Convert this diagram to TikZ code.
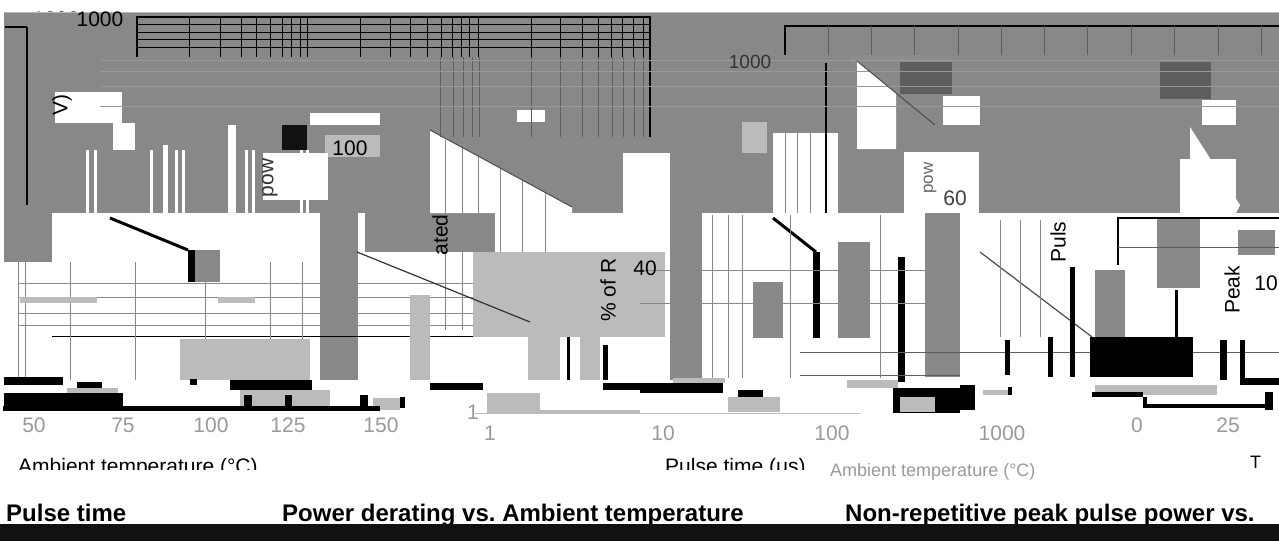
\documentclass[tikz,border=0pt]{standalone}
\usepackage{fontspec}
\setmainfont{Liberation Sans}
\frenchspacing
\definecolor{midgray}{HTML}{888888}
\definecolor{darkgray2}{HTML}{5E5E5E}
\definecolor{lightgray2}{HTML}{BBBBBB}
\definecolor{barblack}{HTML}{111111}
\definecolor{ticktext}{HTML}{9A9A9A}
\tikzset{
  grblock/.style={fill=midgray},
  dkblock/.style={fill=darkgray2},
  ltblock/.style={fill=lightgray2},
  whblock/.style={fill=white},
  bkblock/.style={fill=black},
  gridline/.style={draw=black, line width=1.4pt},
  thinline/.style={draw=darkgray2, line width=0.8pt},
  paleline/.style={draw=lightgray2, line width=1pt},
  ticklabel/.style={font=\fontsize{21}{21}\selectfont, text=ticktext, inner sep=0pt},
  valuelabel/.style={font=\fontsize{21}{21}\selectfont, inner sep=0pt},
  axistitle/.style={font=\fontsize{21}{21}\selectfont, inner sep=0pt, anchor=base west},
  charttitle/.style={font=\bfseries\fontsize{24}{24}\selectfont, inner sep=0pt, anchor=base west}
}
\begin{document}
\begin{tikzpicture}[x=1pt,y=-1pt]
\useasboundingbox (0,0) rectangle (1279,541);
\fill[white] (0,0) rectangle (1279,541);

\begin{scope}
\clip (0,0) rectangle (1279,12);
\node[valuelabel] (topvalueA) at (56,19) {1000};
\end{scope}
\fill[grblock] (4,12) rectangle (1279,213);
\draw[paleline] (4,12.5) -- (1279,12.5);
\fill[grblock] (4,213) rectangle (52,262);
\fill[grblock] (320,213) rectangle (358,380);
\fill[grblock] (365,210) rectangle (495,252);
\fill[grblock] (670,213) rectangle (702,380);
\fill[grblock] (925,213) rectangle (960,377);

\fill[whblock] (55,92) rectangle (122,123);
\fill[whblock] (113,123) rectangle (135,150);
\fill[whblock] (163,145) rectangle (168,213);
\fill[whblock] (228,125) rectangle (236,213);
\foreach \xx in {86,94,150,175,182,245,252,300,306}
  \fill[whblock] (\xx,150) rectangle (\xx+3,213);
\fill[whblock] (310,113) rectangle (380,125);
\fill[lightgray2] (325,135) rectangle (380,157);
\fill[whblock] (263,153) rectangle (328,200);
\fill[barblack] (282,125) rectangle (307,150);
\fill[whblock] (430,130) -- (572,207) -- (572,213) -- (430,213) -- cycle;
\foreach \xx in {445,462,478,500,522,545}
  \draw[thinline, draw=midgray] (\xx,140) -- (\xx,330);
\fill[whblock] (517,110) rectangle (545,122);
\fill[whblock] (623,153) rectangle (670,213);
\fill[whblock] (773,133) rectangle (838,213);
\foreach \xx in {785,797,810}
  \draw[thinline, draw=midgray] (\xx,133) -- (\xx,213);
\fill[lightgray2] (742,122) rectangle (767,153);
\fill[whblock] (857,61) -- (896,93) -- (896,149) -- (857,149) -- cycle;
\fill[whblock] (943,96) rectangle (980,125);
\fill[whblock] (1202,100) rectangle (1236,125);
\fill[whblock] (904,152) rectangle (979,213);
\fill[whblock] (1180,159) rectangle (1236,213);
\fill[whblock] (1190,127) -- (1240,205) -- (1236,213) -- (1190,213) -- cycle;
\fill[black!45] (850,55) rectangle (952,62);
\fill[dkblock] (900,62) rectangle (952,94);
\fill[dkblock] (1160,62) rectangle (1211,99);

\draw[gridline] (137,57) -- (137,17) -- (650,17) -- (650,137);
\foreach \yy in {24,32,39,47} \draw[gridline, line width=1pt] (137,\yy) -- (650,\yy);
\foreach \xx in {189,220,241,256,270,282,291,300,307,360,390,410,427,441,452,461,469,478,531,560,582,598,611,622,633,643}
  \draw[gridline, line width=0.9pt] (\xx,17) -- (\xx,57);
\foreach \xx in {440,453,463,472,479,531,560,582,598,612,623,634,643}
  \draw[thinline] (\xx,57) -- (\xx,137);
\draw[gridline] (27,27) -- (5,27);
\draw[gridline] (27,27) -- (27,205);
\draw[gridline] (785,55) -- (785,26) -- (1279,26);
\foreach \xx in {828,871,914,958,1001,1044,1087,1131,1174,1218,1261}
  \draw[thinline] (\xx,26) -- (\xx,55);
\draw[gridline] (826,63) -- (826,213);
\foreach \yy in {60,71,86,106}
  \draw[paleline, draw=black!40] (100,\yy) -- (1279,\yy);

\draw[black!70, line width=1pt] (857,61) -- (935,125);
\draw[black!70, line width=1pt] (430,130) -- (572,207);
\draw[black, line width=3pt] (110,218) -- (188,250);
\fill[bkblock] (188,250) rectangle (195,282);
\fill[grblock] (195,250) rectangle (220,282);
\foreach \yy in {283,297,313,325}
  \draw[paleline, draw=midgray] (18,\yy) -- (640,\yy);
\draw[thinline, draw=black] (52,336) -- (640,336);
\foreach \xx in {18,25,70,135,205,270,302}
  \draw[thinline, draw=midgray] (\xx,262) -- (\xx,380);
\fill[ltblock] (180,339) rectangle (310,380);
\fill[ltblock] (20,297) rectangle (97,303);
\fill[ltblock] (218,297) rectangle (255,303);
\fill[ltblock] (410,295) rectangle (430,380);
\fill[ltblock] (473,252) rectangle (665,337);
\fill[ltblock] (528,337) rectangle (560,380);
\fill[ltblock] (580,337) rectangle (600,380);
\draw[black!80, line width=1.2pt] (357,252) -- (530,322);
\fill[bkblock] (567,337) rectangle (570,380);
\fill[bkblock] (603,345) rectangle (608,380);

\fill[grblock] (753,282) rectangle (783,338);
\draw[black, line width=3pt] (773,218) -- (816,252);
\fill[bkblock] (813,252) rectangle (820,338);
\fill[grblock] (838,242) rectangle (870,338);
\fill[bkblock] (898,257) rectangle (905,382);
\foreach \yy in {270,303}
  \draw[thinline, draw=midgray] (640,\yy) -- (960,\yy);
\draw[thinline] (800,352) -- (1279,352);
\draw[thinline] (800,375) -- (960,375);
\foreach \xx in {712,728,742,790,880}
  \draw[thinline, draw=midgray] (\xx,215) -- (\xx,378);

\draw[black!70, line width=1.2pt] (980,252) -- (1092,337);
\foreach \xx in {1000,1020,1040}
  \draw[thinline, draw=midgray] (\xx,220) -- (\xx,337);
\fill[grblock] (1095,270) rectangle (1125,337);
\fill[grblock] (1157,218) rectangle (1200,288);
\fill[grblock] (1238,230) rectangle (1275,255);
\fill[bkblock] (1090,337) rectangle (1193,377);
\fill[bkblock] (1005,340) rectangle (1010,375);
\fill[bkblock] (1048,337) rectangle (1053,377);
\fill[bkblock] (1070,267) rectangle (1075,377);
\fill[bkblock] (1220,340) rectangle (1227,380);
\fill[bkblock] (1240,340) rectangle (1245,380);
\fill[bkblock] (1240,378) rectangle (1279,385);
\draw[gridline] (1118,265) -- (1118,218) -- (1279,218);
\draw[thinline] (1118,247) -- (1279,247);
\fill[bkblock] (1175,290) rectangle (1178,340);

\fill[bkblock] (4,377) rectangle (63,385);
\fill[bkblock] (77,382) rectangle (102,390);
\fill[ltblock] (67,388) rectangle (118,397);
\fill[bkblock] (4,393) rectangle (123,410);
\fill[bkblock] (190,379) rectangle (197,385);
\fill[bkblock] (230,380) rectangle (312,390);
\fill[ltblock] (240,390) rectangle (330,410);
\fill[bkblock] (244,395) rectangle (252,410);
\fill[bkblock] (285,395) rectangle (292,410);
\fill[bkblock] (360,395) rectangle (368,410);
\fill[ltblock] (373,398) rectangle (400,410);
\fill[bkblock] (400,397) rectangle (405,408);
\fill[bkblock] (3,406) rectangle (380,411);
\fill[bkblock] (430,383) rectangle (483,390);
\fill[ltblock] (487,393) rectangle (640,413);
\fill[whblock] (540,393) rectangle (650,410);
\fill[bkblock] (603,383) rectangle (640,390);
\fill[bkblock] (640,383) rectangle (723,393);
\fill[ltblock] (673,378) rectangle (725,383);
\fill[bkblock] (738,390) rectangle (763,397);
\fill[ltblock] (728,397) rectangle (780,412);
\fill[ltblock] (847,380) rectangle (898,388);
\fill[bkblock] (893,388) rectangle (960,413);
\fill[ltblock] (900,397) rectangle (935,412);
\draw[paleline] (475,413) -- (860,413);
\fill[bkblock] (960,385) rectangle (975,410);
\fill[ltblock] (983,390) rectangle (1008,395);
\fill[bkblock] (1008,387) rectangle (1012,395);
\fill[ltblock] (1095,385) rectangle (1217,395);
\fill[bkblock] (1092,392) rectangle (1143,397);
\fill[bkblock] (1143,397) rectangle (1147,408);
\fill[bkblock] (1143,404) rectangle (1265,408);
\fill[bkblock] (1265,392) rectangle (1273,410);

\node[valuelabel] (topvalueB) at (100,19) {1000};
\node[valuelabel, text=black!80, font=\fontsize{19}{19}\selectfont] (midvalueA) at (750,62) {1000};
\node[valuelabel] (leftvalueA) at (350,148) {100};
\node[valuelabel] (midvalueB) at (645,268) {40};
\node[valuelabel, text=black!75] (rightvalueA) at (955,198) {60};
\node[valuelabel, rotate=90, text=black!60, font=\fontsize{17}{17}\selectfont] (rightpower) at (930,178) {pow};
\node[valuelabel] (rightvalueB) at (1266,283) {10};
\node[valuelabel, text=ticktext] (midvalueC) at (473,412) {1};
\node[valuelabel, rotate=90] (leftunit) at (62,105) {V)};
\node[valuelabel, rotate=90, text=black!80] (leftpower) at (270,178) {pow};
\node[valuelabel, rotate=90] (midrated) at (440,235) {ated};
\node[valuelabel, rotate=90] (midratio) at (608,290) {\% of R};
\node[valuelabel, rotate=90] (rightpulse) at (1058,242) {Puls};
\node[valuelabel, rotate=90] (rightpeak) at (1232,290) {Peak};

\node[ticklabel] (tempA) at (34,425) {50};
\node[ticklabel] (tempB) at (123,425) {75};
\node[ticklabel] (tempC) at (211,425) {100};
\node[ticklabel] (tempD) at (288,425) {125};
\node[ticklabel] (tempE) at (381,425) {150};
\node[ticklabel] (timeA) at (490,433) {1};
\node[ticklabel] (timeB) at (663,433) {10};
\node[ticklabel] (timeC) at (832,433) {100};
\node[ticklabel] (timeD) at (1002,433) {1000};
\node[ticklabel] (tempF) at (1137,425) {0};
\node[ticklabel] (tempG) at (1228,425) {25};

\begin{scope}
\clip (0,450) rectangle (1279,469);
\node[axistitle] (xtitleA) at (18,473) {Ambient temperature (°C)};
\node[axistitle] (xtitleB) at (665,473) {Pulse time (μs)};
\end{scope}
\node[axistitle, text=ticktext, font=\fontsize{18}{18}\selectfont] (xtitleC) at (830,476) {Ambient temperature (°C)};
\node[axistitle, font=\fontsize{18}{18}\selectfont] (xtitleD) at (1250,468) {T};

\node[charttitle] (titleA) at (6,521) {Pulse time};
\node[charttitle] (titleB) at (282,521) {Power derating vs. Ambient temperature};
\node[charttitle] (titleC) at (845,521) {Non-repetitive peak pulse power vs.};
\fill[barblack] (0,524) rectangle (1279,541);
\end{tikzpicture}
\end{document}
